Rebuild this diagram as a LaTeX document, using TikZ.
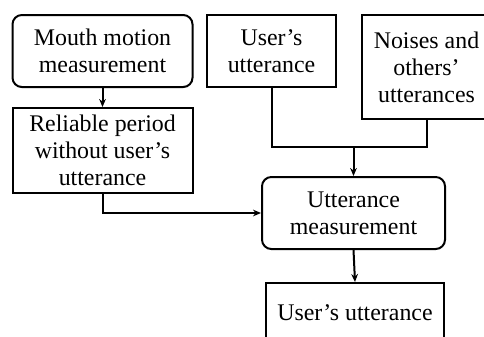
\documentclass[tikz,border=0pt]{standalone}
\usepackage{fontspec}
\setmainfont{Liberation Serif}
\usetikzlibrary{arrows.meta}
\begin{document}
\begin{tikzpicture}[x=0.75pt,y=-0.75pt,
  box/.style={draw,line width=1.5pt,align=center,inner sep=0pt,
    font=\fontsize{17.9pt}{20.3pt}\selectfont},
  rbox/.style={box,rounded corners=7pt},
  link/.style={line width=1.5pt},
  flow/.style={link,-{Stealth[length=6pt,width=5pt]}}]
\useasboundingbox (0,0) rectangle (484,336);
\clip (0,0) rectangle (484,336);
\fill[white] (0,0) rectangle (484,336);

\node[rbox,minimum width=135pt,minimum height=54pt] (mouth) at (102.5,51) {Mouth motion\\measurement};
\node[box,minimum width=135pt,minimum height=63.75pt] (reliable) at (102.5,150.5) {Reliable period\\without user's\\utterance};
\node[box,minimum width=96.75pt,minimum height=54pt] (user) at (271.5,51) {User's\\utterance};
\node[box,minimum width=97.5pt,minimum height=78pt] (noise) at (426.5,67) {Noises and\\others'\\utterances};
\node[rbox,minimum width=137.25pt,minimum height=54pt] (meas) at (353.5,213) {Utterance\\measurement};
\node[box,minimum width=133.5pt,minimum height=45pt] (result) at (355,313) {User's utterance};

\coordinate (join) at (353.5,147);

\draw[flow] (mouth) -- (reliable);
\draw[link] (user.south) |- (join) -| (noise.south);
\draw[flow] (join) -- (meas.north);
\draw[flow] (reliable.south) |- (meas.west);
\draw[flow] (meas.south) -- (result.north);
\end{tikzpicture}
\end{document}
